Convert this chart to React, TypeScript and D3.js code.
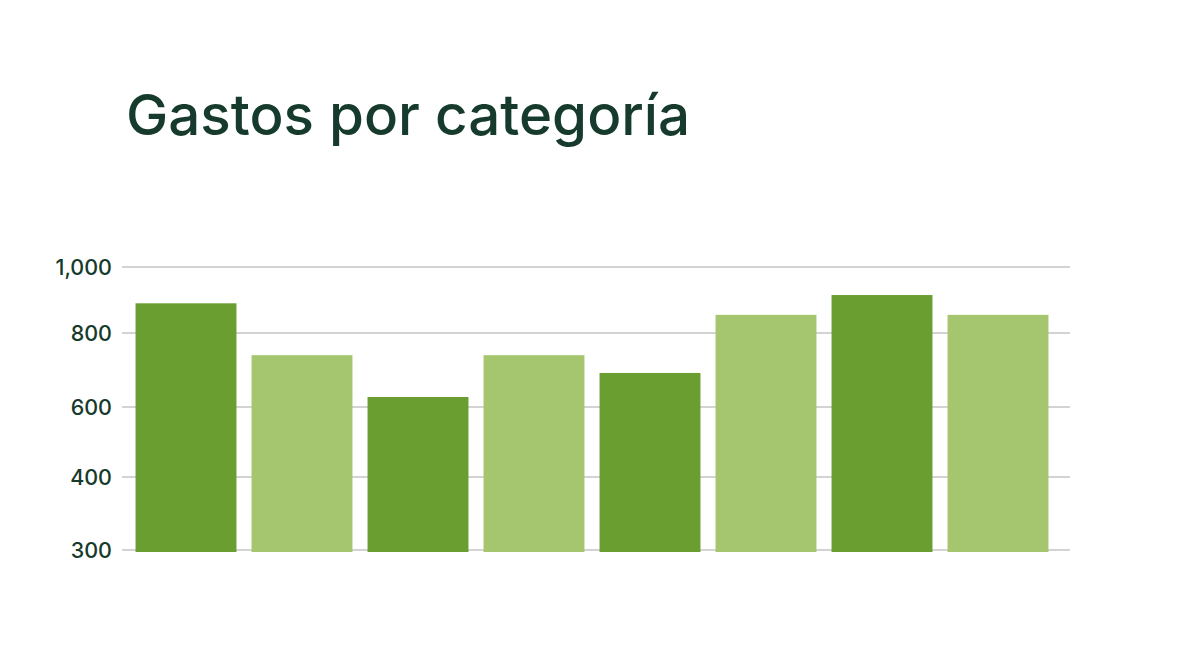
import React from 'react';
import * as d3 from 'd3';

const categories = ['A', 'B', 'C', 'D', 'E', 'F', 'G', 'H'];
const values = [890, 740, 627, 740, 692, 855, 915, 855];
const shades = ['dark', 'light', 'dark', 'light', 'dark', 'light', 'dark', 'light'];
const tickValues = [300, 400, 600, 800, 1000];
const tickPositions = [550, 477, 407, 333, 267];

const WIDTH = 1200;
const HEIGHT = 659;
const dark = '#6a9e30';
const light = '#a5c66e';
const ink = '#163a2b';

export default function App() {
  // uneven gridline spacing in the source, so the y scale is piecewise
  const y = d3.scaleLinear().domain(tickValues).range(tickPositions);
  const x = d3.scaleBand<string>()
    .domain(categories)
    .range([128, 1056])
    .paddingInner(0.13)
    .paddingOuter(0.065);
  const fmt = d3.format(',');

  return (
    <svg
      width={WIDTH}
      height={HEIGHT}
      style={{ position: 'absolute', left: 0, top: 0, background: '#fff' }}
      fontFamily="Inter, 'Noto Sans', sans-serif"
    >
      <text x={126} y={135} fontSize={56.5} fontWeight={500} fill={ink}>
        Gastos por categoría
      </text>

      {tickValues.map((t) => (
        <g key={t}>
          <line x1={122} x2={1070} y1={y(t)} y2={y(t)} stroke="#c4c4c4" strokeWidth={1.5} />
          <text
            x={112}
            y={y(t)}
            dy="0.35em"
            textAnchor="end"
            fontSize={21.5}
            fontWeight={500}
            fill={ink}
          >
            {fmt(t)}
          </text>
        </g>
      ))}

      {categories.map((c, i) => (
        <rect
          key={c}
          x={x(c)}
          y={y(values[i])}
          width={x.bandwidth()}
          height={y(300) + 2 - y(values[i])}
          fill={shades[i] === 'dark' ? dark : light}
        />
      ))}
    </svg>
  );
}
